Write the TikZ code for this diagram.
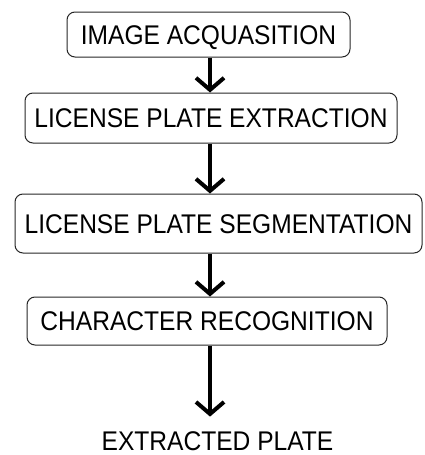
\documentclass[tikz,border=0pt]{standalone}
\usepackage{fontspec}
\newfontfamily\stagefont{Liberation Sans}[FakeStretch=0.91]
\usetikzlibrary{arrows.meta}

\begin{document}
\begin{tikzpicture}[x=1pt, y=-1pt,
		stage/.style={draw, rounded corners=8pt, line width=1pt, black!85, text=black, inner sep=0pt, text height=19.4pt, text depth=0pt, font=\stagefont\fontsize{27}{30}\selectfont},
		flow/.style={line width=4pt, -{Straight Barb[length=12pt, width=28pt, line width=4pt]}}]
			\useasboundingbox (0,0) rectangle (424,455);
			\node[stage, minimum width=283pt, minimum height=45pt] (acq) at (208.5,34.5) {IMAGE ACQUASITION};
			\node[stage, minimum width=372pt, minimum height=50pt] (ext) at (211,118) {LICENSE PLATE EXTRACTION};
			\node[stage, minimum width=407pt, minimum height=59pt] (seg) at (218.5,223.5) {LICENSE PLATE SEGMENTATION};
			\node[stage, minimum width=360pt, minimum height=48pt] (rec) at (207,321) {CHARACTER RECOGNITION};
			\node[inner sep=0pt, text height=19.4pt, text depth=0pt, font=\stagefont\fontsize{27}{30}\selectfont] (plate) at (217.5,440.5) {EXTRACTED PLATE};
			\coordinate (spine) at (210,0);
			\draw[flow] (acq.south -| spine)--(ext.north -| spine);
			\draw[flow] (ext.south -| spine)--(seg.north -| spine);
			\draw[flow] (seg.south -| spine)--(rec.north -| spine);
			\draw[flow, shorten >=14pt] (rec.south -| spine)--(plate.north -| spine);
		\end{tikzpicture}
\end{document}
